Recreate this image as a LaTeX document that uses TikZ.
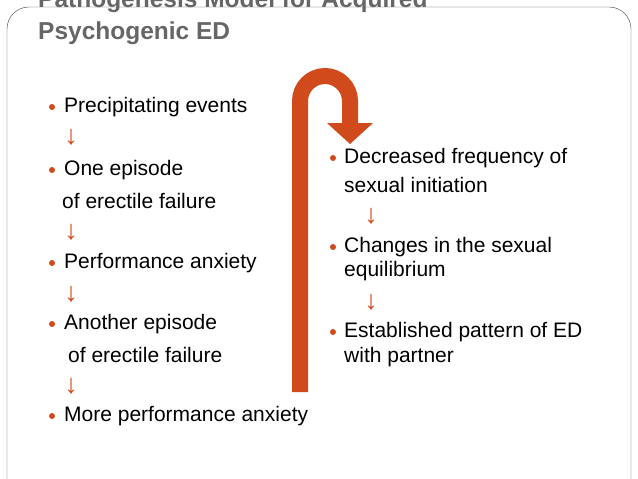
\documentclass[tikz,border=0pt]{standalone}
\usepackage{fontspec}
\setmainfont{Liberation Sans}
\definecolor{rust}{HTML}{D04A1C}
\definecolor{titlegray}{HTML}{666666}
\begin{document}
\begin{tikzpicture}[x=1pt,y=-1pt,
  item/.style={anchor=west, inner sep=0pt, font=\fontsize{21}{24}\selectfont},
  dot/.style={circle, fill=rust, inner sep=0pt, minimum size=6pt},
  down/.style={inner sep=0pt, text=rust, font=\fontsize{27}{30}\selectfont},
  heading/.style={anchor=west, inner sep=0pt, text=titlegray, font=\bfseries\fontsize{24.5}{27}\selectfont}
]
\clip (0,0) rectangle (638,479);
\draw[black!75, rounded corners=22pt] (7,7) rectangle (631,520);
% title
\node[heading] (title1) at (38,1) {Pathogenesis Model for Acquired};
\node[heading] (title2) at (38,33) {Psychogenic ED};
% left column
\node[dot] (b1) at (52,107) {};
\node[item] (precip) at (64,107) {Precipitating events};
\node[down] (a1) at (71,137) {↓};
\node[dot] (b2) at (52,170) {};
\node[item] (one) at (64,170) {One episode};
\node[item] (onefail) at (62,201) {of erectile failure};
\node[down] (a2) at (71,232) {↓};
\node[dot] (b3) at (52,263) {};
\node[item] (perf) at (64,263) {Performance anxiety};
\node[down] (a3) at (71,294) {↓};
\node[dot] (b4) at (52,324) {};
\node[item] (another) at (64,324) {Another episode};
\node[item] (anotherfail) at (68,355) {of erectile failure};
\node[down] (a4) at (71,386) {↓};
\node[dot] (b5) at (52,416) {};
\node[item] (more) at (64,416) {More performance anxiety};
% right column
\node[dot] (c1) at (333,158) {};
\node[item] (decr) at (344,158) {Decreased frequency of};
\node[item] (decr2) at (344,185) {sexual initiation};
\node[down] (r1) at (371,216) {↓};
\node[dot] (c2) at (333,247) {};
\node[item] (chg) at (344,247) {Changes in the sexual};
\node[item] (chg2) at (344,271) {equilibrium};
\node[down] (r2) at (371,302) {↓};
\node[dot] (c3) at (333,332) {};
\node[item] (est) at (344,332) {Established pattern of ED};
\node[item] (est2) at (344,357) {with partner};
% turning arrow
\draw[rust, line width=16pt] (300,392) -- (300,101) arc[start angle=180, end angle=0, radius=25pt] -- (350,124);
\fill[rust] (327,123) -- (373,123) -- (350,144) -- cycle;
\end{tikzpicture}
\end{document}
